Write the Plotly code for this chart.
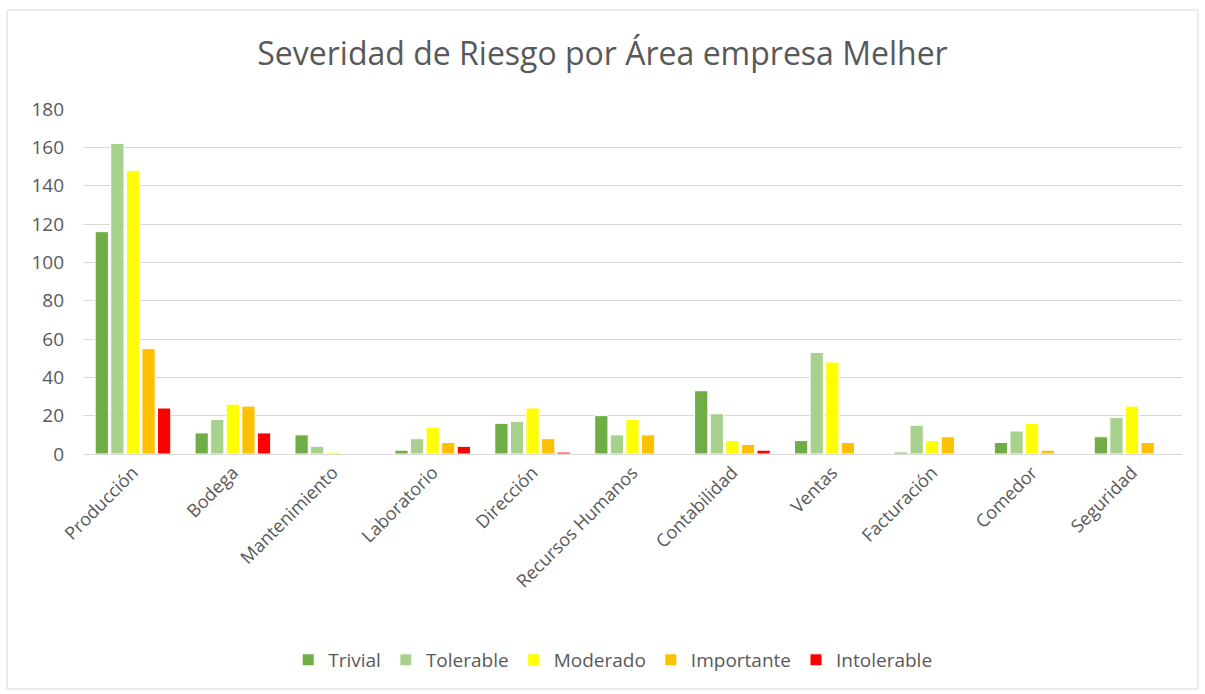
import plotly.graph_objects as go

areas = ["Producción", "Bodega", "Mantenimiento", "Laboratorio", "Dirección",
         "Recursos Humanos", "Contabilidad", "Ventas", "Facturación", "Comedor", "Seguridad"]
trivial = [116, 11, 10, 2, 16, 20, 33, 7, 1, 6, 9]
tolerable = [162, 18, 4, 8, 17, 10, 21, 53, 15, 12, 19]
moderado = [148, 26, 1, 14, 24, 18, 7, 48, 7, 16, 25]
importante = [55, 25, 0, 6, 8, 10, 5, 6, 9, 2, 6]
intolerable = [24, 11, 0, 4, 1, 0, 2, 0, 0, 0, 0]

series = [
    ("Trivial", trivial, "#70AD47"),
    ("Tolerable", tolerable, "#A9D18E"),
    ("Moderado", moderado, "#FFFF00"),
    ("Importante", importante, "#FFC000"),
    ("Intolerable", intolerable, "#FF0000"),
]

font = "Open Sans, sans-serif"
fig = go.Figure()
for name, vals, color in series:
    fig.add_trace(go.Bar(name=name, x=areas, y=vals, marker_color=color,
                         marker_line_color="white", marker_line_width=1))

fig.update_layout(
    width=1205, height=694,
    barmode="group", bargap=0.22, bargroupgap=0.15,
    plot_bgcolor="white", paper_bgcolor="white",
    margin=dict(l=83, r=23, t=109, b=240),
    title=dict(text="Severidad de Riesgo por Área empresa Melher", x=0.5, xanchor="center",
               y=0.922, yanchor="middle", font=dict(family=font, size=32, color="#595959")),
    font=dict(family=font, color="#595959"),
    legend=dict(orientation="h", x=0.482, xanchor="center", y=-0.597, yanchor="middle",
                font=dict(size=19, color="#595959"), itemwidth=30),
    yaxis=dict(range=[0, 180], dtick=20, showgrid=True, gridcolor="#D9D9D9", gridwidth=1,
               zeroline=False, showline=False, tickfont=dict(size=19, color="#595959"),
               ticklabelstandoff=18),
    xaxis=dict(showline=True, linecolor="#D9D9D9", linewidth=1, tickangle=-45,
               tickfont=dict(size=18, color="#595959")),
    shapes=[dict(type="rect", xref="paper", yref="paper", x0=-0.069, x1=1.0146,
                 y0=-0.681, y1=1.287, line=dict(color="#D9D9D9", width=1))],
)
fig.write_html("out.html", config={"displayModeBar": False},
               post_script="document.body.style.margin='0';")
